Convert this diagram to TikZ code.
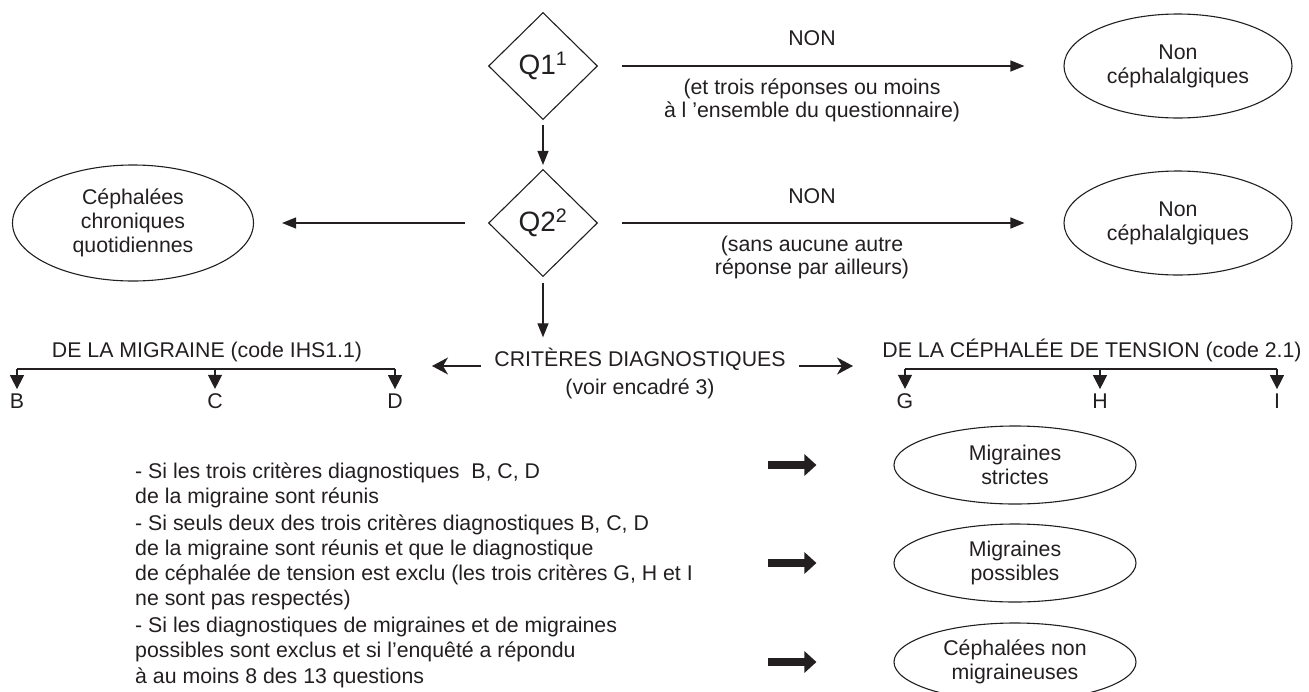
\documentclass[tikz,border=0pt]{standalone}
\usepackage{fontspec}
\setmainfont{Liberation Sans}
\usetikzlibrary{shapes.geometric,arrows.meta}
\definecolor{ink}{RGB}{35,31,32}
\begin{document}
\begin{tikzpicture}[x=1pt,y=-1pt,
  every node/.style={font=\fontsize{21.3}{23}\selectfont, inner sep=0pt, text=ink},
  ell/.style={draw=ink, ellipse, line width=1.1pt, align=center, font=\fontsize{21.3}{24}\selectfont},
  bigell/.style={ell, minimum width=228pt, minimum height=104pt},
  resell/.style={ell, minimum width=242pt, minimum height=78pt},
  dia/.style={draw=ink, diamond, line width=1.1pt, minimum width=109pt, minimum height=107pt, font=\fontsize{28}{30}\selectfont},
  lbl/.style={align=center},
  arr/.style={draw=ink, line width=1.3pt, -{Triangle[length=14pt,width=11pt]}},
  crit/.style={draw=ink, line width=1.6pt, -{Stealth[length=16pt,width=17pt,inset=5pt]}},
  tick/.style={draw=ink, line width=1.1pt, -{Triangle[length=14pt,width=14pt]}},
  fat/.style={draw=ink, line width=8pt, -{Triangle[length=12pt,width=21pt]}},
  txt/.style={anchor=base west}
]
\useasboundingbox (0,0) rectangle (1309,691);

% ---- row 1
\node[dia] (q1) at (543,66) {Q1\textsuperscript{1}};
\node[bigell] (n1) at (1178,66) {Non\\céphalalgiques};
\node (non1) at (812,38) {NON};
\node[lbl] (t1) at (812,100) {(et trois réponses ou moins\\à l ’ensemble du questionnaire)};
\draw[arr, shorten <=24pt, shorten >=39pt] (q1) -- (n1);

% ---- row 2
\node[dia] (q2) at (543,223) {Q2\textsuperscript{2}};
\node[ell, minimum width=241pt, minimum height=116pt] (cc) at (133,223) {Céphalées\\chroniques\\quotidiennes};
\node[bigell] (n2) at (1178,223) {Non\\céphalalgiques};
\node (non2) at (812,196) {NON};
\node[lbl] (t2) at (812,257) {(sans aucune autre\\réponse par ailleurs)};
\draw[arr, shorten <=24pt, shorten >=39pt] (q2) -- (n2);
\draw[arr, shorten <=23pt, shorten >=28pt] (q2) -- (cc);
\draw[arr, shorten <=5pt, shorten >=4pt] (q1) -- (q2);

% ---- criteria
\node[anchor=base] (crit) at (640,366) {CRITÈRES DIAGNOSTIQUES};
\node[anchor=base] (voir) at (640,394) {(voir encadré 3)};
\draw[arr, shorten <=6pt, shorten >=10pt] (q2.south) -- (q2.south |- crit.north);
\coordinate (cl) at (432,366);
\coordinate (cr) at (853,366);
\draw[crit, shorten <=13pt] (crit.base west) -- (cl);
\draw[crit, shorten <=13pt] (crit.base east) -- (cr);

% ---- migraine bracket
\node[anchor=base] (hm) at (207,357) {DE LA MIGRAINE (code IHS1.1)};
\coordinate (mb) at (17,369);
\coordinate (mc) at (215,369);
\coordinate (md) at (395,369);
\node[anchor=base] (B) at (17,408) {B};
\node[anchor=base] (C) at (215,408) {C};
\node[anchor=base] (D) at (395,408) {D};
\draw[draw=ink, line width=1.1pt] (mb) -- (md);
\draw[tick, shorten >=4pt] (mb) -- (B.north);
\draw[tick, shorten >=4pt] (mc) -- (C.north);
\draw[tick, shorten >=4pt] (md) -- (D.north);

% ---- tension bracket
\node[anchor=base] (ht) at (1092,357) {DE LA CÉPHALÉE DE TENSION (code 2.1)};
\coordinate (tg) at (905,369);
\coordinate (th) at (1100,369);
\coordinate (ti) at (1277,369);
\node[anchor=base] (G) at (905,408) {G};
\node[anchor=base] (H) at (1100,408) {H};
\node[anchor=base] (I) at (1277,408) {I};
\draw[draw=ink, line width=1.1pt] (tg) -- (ti);
\draw[tick, shorten >=4pt] (tg) -- (G.north);
\draw[tick, shorten >=4pt] (th) -- (H.north);
\draw[tick, shorten >=4pt] (ti) -- (I.north);

% ---- left text block
\node[txt] (l1) at (135,478) {- Si les trois critères diagnostiques\ \ B, C, D};
\node[txt] (l2) at (135,503) {de la migraine sont réunis};
\node[txt] (l3) at (135,530) {- Si seuls deux des trois critères diagnostiques B, C, D};
\node[txt] (l4) at (135,555) {de la migraine sont réunis et que le diagnostique};
\node[txt] (l5) at (135,580) {de céphalée de tension est exclu (les trois critères G, H et I};
\node[txt] (l6) at (135,605) {ne sont pas respectés)};
\node[txt] (l7) at (135,632) {- Si les diagnostiques de migraines et de migraines};
\node[txt] (l8) at (135,657) {possibles sont exclus et si l’enquêté a répondu};
\node[txt] (l9) at (135,683) {à au moins 8 des 13 questions};

% ---- results
\node[resell] (e1) at (1015,465) {Migraines\\strictes};
\node[resell] (e2) at (1015,563) {Migraines\\possibles};
\node[resell] (e3) at (1015,662) {Céphalées non\\migraineuses};
\coordinate (f1) at (768,465);
\coordinate (f2) at (768,563);
\coordinate (f3) at (768,662);
\draw[fat, shorten >=77pt] (f1) -- (e1);
\draw[fat, shorten >=77pt] (f2) -- (e2);
\draw[fat, shorten >=77pt] (f3) -- (e3);
\end{tikzpicture}
\end{document}
